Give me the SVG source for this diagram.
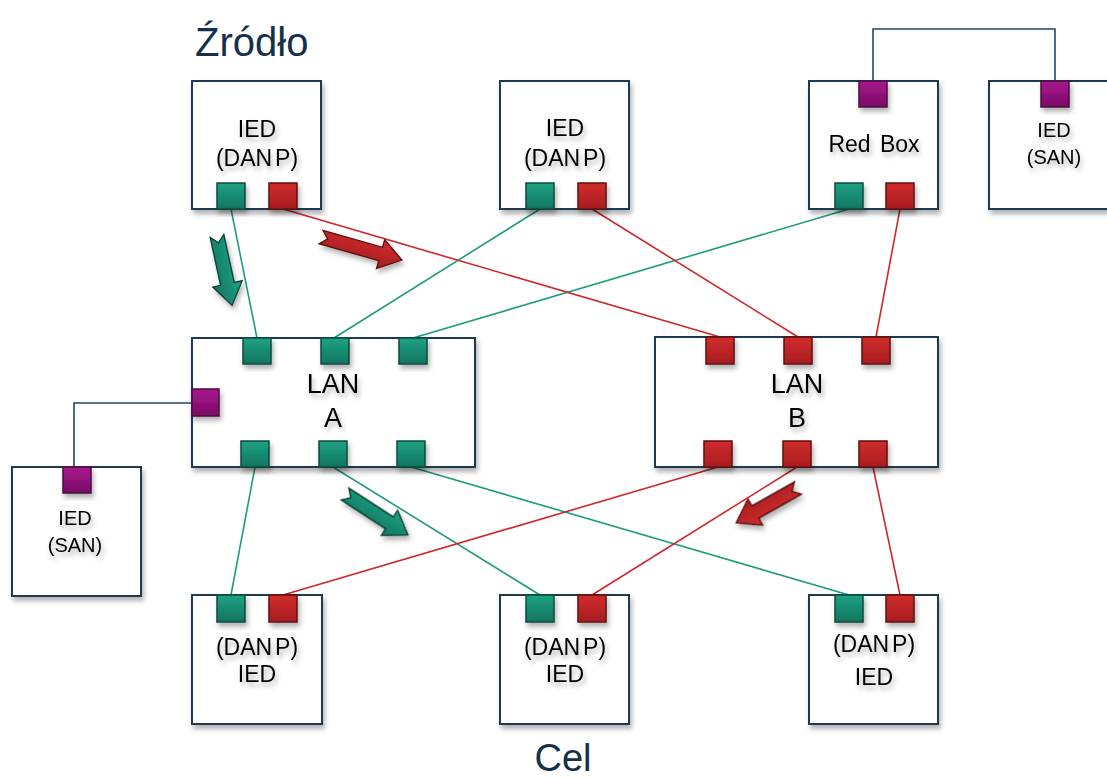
<svg xmlns="http://www.w3.org/2000/svg" width="1107" height="778" viewBox="0 0 1107 778">
<style>
.box{fill:#fff;stroke:#1b3a52;stroke-width:2}
.lbl{font-family:"Liberation Sans",Arial,sans-serif;fill:#000;text-anchor:middle}
.big{font-family:"Liberation Sans",Arial,sans-serif;fill:#14304a}
.g{stroke:#1d9c7e;stroke-width:1.6;fill:none}
.r{stroke:#d0262a;stroke-width:1.6;fill:none}
.b{stroke:#1b4a6b;stroke-width:1.6;fill:none}
.pg{fill:url(#gg);stroke:#0d4a3c;stroke-width:1.5}
.pr{fill:url(#gr);stroke:#5e1212;stroke-width:1.5}
.pp{fill:url(#gp);stroke:#4a0a40;stroke-width:1.5}
.ag{fill:url(#gg);stroke:#0b3e32;stroke-width:1.3}
.ar{fill:url(#gr);stroke:#5a1010;stroke-width:1.3}
</style>
<defs>
<linearGradient id="gg" x1="0" y1="0" x2="0" y2="1"><stop offset="0" stop-color="#1ea283"/><stop offset="1" stop-color="#107560"/></linearGradient>
<linearGradient id="gr" x1="0" y1="0" x2="0" y2="1"><stop offset="0" stop-color="#d02d2d"/><stop offset="1" stop-color="#a81c1f"/></linearGradient>
<linearGradient id="gp" x1="0" y1="0" x2="0" y2="1"><stop offset="0" stop-color="#a8188e"/><stop offset="1" stop-color="#7a0b66"/></linearGradient>
<filter id="sh" x="-20%" y="-20%" width="150%" height="150%"><feDropShadow dx="2" dy="4" stdDeviation="2.5" flood-color="#000" flood-opacity="0.3"/></filter>
<filter id="tsh" x="-20%" y="-20%" width="140%" height="160%"><feDropShadow dx="2" dy="4" stdDeviation="2.5" flood-color="#000" flood-opacity="0.3"/></filter>
<polygon id="arr71" points="0,-7 49,-7 49,-15 71,0 49,15 49,7 0,7 7,0"/>
<polygon id="arr84" points="0,-7 62,-7 62,-15 84,0 62,15 62,7 0,7 7,0"/>
<polygon id="arr75" points="0,-7 53,-7 53,-15 75,0 53,15 53,7 0,7 7,0"/>
</defs>
<rect width="1107" height="778" fill="#fff"/>

<text class="big" x="195" y="56" font-size="40">Źródło</text>
<text class="big" x="563" y="771" font-size="38" text-anchor="middle">Cel</text>

<g id="connectors">
<line class="g" x1="231" y1="209" x2="257" y2="338"/>
<line class="g" x1="540" y1="209" x2="334" y2="338"/>
<line class="g" x1="849" y1="209" x2="413" y2="338"/>
<line class="g" x1="255" y1="467" x2="231" y2="595"/>
<line class="g" x1="333" y1="467" x2="540" y2="595"/>
<line class="g" x1="411" y1="467" x2="849" y2="595"/>
<line class="r" x1="283" y1="209" x2="720" y2="337"/>
<line class="r" x1="592" y1="209" x2="798" y2="337"/>
<line class="r" x1="900" y1="209" x2="876" y2="337"/>
<line class="r" x1="718" y1="467" x2="283" y2="595"/>
<line class="r" x1="797" y1="467" x2="592" y2="595"/>
<line class="r" x1="873" y1="467" x2="900" y2="595"/>
<polyline class="b" points="873,81 873,29 1055,29 1055,81"/>
<polyline class="b" points="193,403 74,403 74,468"/>
</g>

<g id="src-ied">
<rect class="box" x="192" y="81" width="129" height="128" filter="url(#sh)"/>
<g filter="url(#tsh)"><text class="lbl" x="257" y="137" font-size="23">IED</text><text class="lbl" x="257" y="166" font-size="23">(DAN<tspan dx="3">P)</tspan></text></g>
<rect class="pg" x="217" y="183" width="28" height="26" filter="url(#sh)"/>
<rect class="pr" x="269" y="183" width="28" height="26" filter="url(#sh)"/>
</g>

<g id="ied-top-2">
<rect class="box" x="500" y="81" width="129" height="128" filter="url(#sh)"/>
<g filter="url(#tsh)"><text class="lbl" x="565" y="136" font-size="23">IED</text><text class="lbl" x="565" y="166" font-size="23">(DAN<tspan dx="3">P)</tspan></text></g>
<rect class="pg" x="526" y="183" width="28" height="26" filter="url(#sh)"/>
<rect class="pr" x="578" y="183" width="28" height="26" filter="url(#sh)"/>
</g>

<g id="redbox">
<rect class="box" x="809" y="81" width="129" height="128" filter="url(#sh)"/>
<g filter="url(#tsh)"><text class="lbl" x="874" y="152" font-size="23" word-spacing="3">Red Box</text></g>
<rect class="pp" x="859" y="81" width="28" height="26" filter="url(#sh)"/>
<rect class="pg" x="835" y="183" width="28" height="26" filter="url(#sh)"/>
<rect class="pr" x="886" y="183" width="28" height="26" filter="url(#sh)"/>
</g>

<g id="ied-san-right">
<rect class="box" x="989" y="81" width="140" height="128" filter="url(#sh)"/>
<g filter="url(#tsh)"><text class="lbl" x="1054" y="137" font-size="20">IED</text><text class="lbl" x="1054" y="164" font-size="20">(SAN)</text></g>
<rect class="pp" x="1041" y="81" width="28" height="26" filter="url(#sh)"/>
</g>

<g id="lan-a">
<rect class="box" x="192" y="338" width="283" height="129" filter="url(#sh)"/>
<g filter="url(#tsh)"><text class="lbl" x="333" y="393" font-size="27">LAN</text><text class="lbl" x="333" y="427" font-size="27">A</text></g>
<rect class="pg" x="243" y="338" width="28" height="26" filter="url(#sh)"/>
<rect class="pg" x="321" y="338" width="28" height="26" filter="url(#sh)"/>
<rect class="pg" x="399" y="338" width="28" height="26" filter="url(#sh)"/>
<rect class="pg" x="241" y="441" width="28" height="26" filter="url(#sh)"/>
<rect class="pg" x="319" y="441" width="28" height="26" filter="url(#sh)"/>
<rect class="pg" x="397" y="441" width="28" height="26" filter="url(#sh)"/>
<rect class="pp" x="192" y="389" width="27" height="27" filter="url(#sh)"/>
</g>

<g id="lan-b">
<rect class="box" x="655" y="337" width="283" height="130" filter="url(#sh)"/>
<g filter="url(#tsh)"><text class="lbl" x="797" y="393" font-size="27">LAN</text><text class="lbl" x="797" y="427" font-size="27">B</text></g>
<rect class="pr" x="706" y="337" width="28" height="27" filter="url(#sh)"/>
<rect class="pr" x="784" y="337" width="28" height="27" filter="url(#sh)"/>
<rect class="pr" x="862" y="337" width="28" height="27" filter="url(#sh)"/>
<rect class="pr" x="704" y="441" width="28" height="26" filter="url(#sh)"/>
<rect class="pr" x="783" y="441" width="28" height="26" filter="url(#sh)"/>
<rect class="pr" x="859" y="441" width="28" height="26" filter="url(#sh)"/>
</g>

<g id="ied-san-left">
<rect class="box" x="12" y="467" width="129" height="129" filter="url(#sh)"/>
<g filter="url(#tsh)"><text class="lbl" x="75" y="525" font-size="20">IED</text><text class="lbl" x="75" y="552" font-size="20">(SAN)</text></g>
<rect class="pp" x="63" y="467" width="28" height="26" filter="url(#sh)"/>
</g>

<g id="dst-ied-1">
<rect class="box" x="192" y="595" width="130" height="129" filter="url(#sh)"/>
<g filter="url(#tsh)"><text class="lbl" x="257" y="655" font-size="23">(DAN<tspan dx="3">P)</tspan></text><text class="lbl" x="257" y="682" font-size="23">IED</text></g>
<rect class="pg" x="217" y="595" width="28" height="27" filter="url(#sh)"/>
<rect class="pr" x="269" y="595" width="28" height="27" filter="url(#sh)"/>
</g>

<g id="dst-ied-2">
<rect class="box" x="500" y="595" width="129" height="129" filter="url(#sh)"/>
<g filter="url(#tsh)"><text class="lbl" x="565" y="655" font-size="23">(DAN<tspan dx="3">P)</tspan></text><text class="lbl" x="565" y="682" font-size="23">IED</text></g>
<rect class="pg" x="526" y="595" width="28" height="27" filter="url(#sh)"/>
<rect class="pr" x="578" y="595" width="28" height="27" filter="url(#sh)"/>
</g>

<g id="dst-ied-3">
<rect class="box" x="809" y="595" width="129" height="129" filter="url(#sh)"/>
<g filter="url(#tsh)"><text class="lbl" x="874" y="652" font-size="23">(DAN<tspan dx="3">P)</tspan></text><text class="lbl" x="874" y="685" font-size="23">IED</text></g>
<rect class="pg" x="835" y="595" width="28" height="27" filter="url(#sh)"/>
<rect class="pr" x="886" y="595" width="28" height="27" filter="url(#sh)"/>
</g>

<g id="flow-arrows" filter="url(#sh)">
<use href="#arr71" class="ag" transform="translate(217,236) rotate(77.7)"/>
<use href="#arr84" class="ar" transform="translate(321,237) rotate(15.9)"/>
<use href="#arr75" class="ag" transform="translate(345,494) rotate(33)"/>
<use href="#arr71" class="ar" transform="translate(798,488) rotate(150.6)"/>
</g>
</svg>
